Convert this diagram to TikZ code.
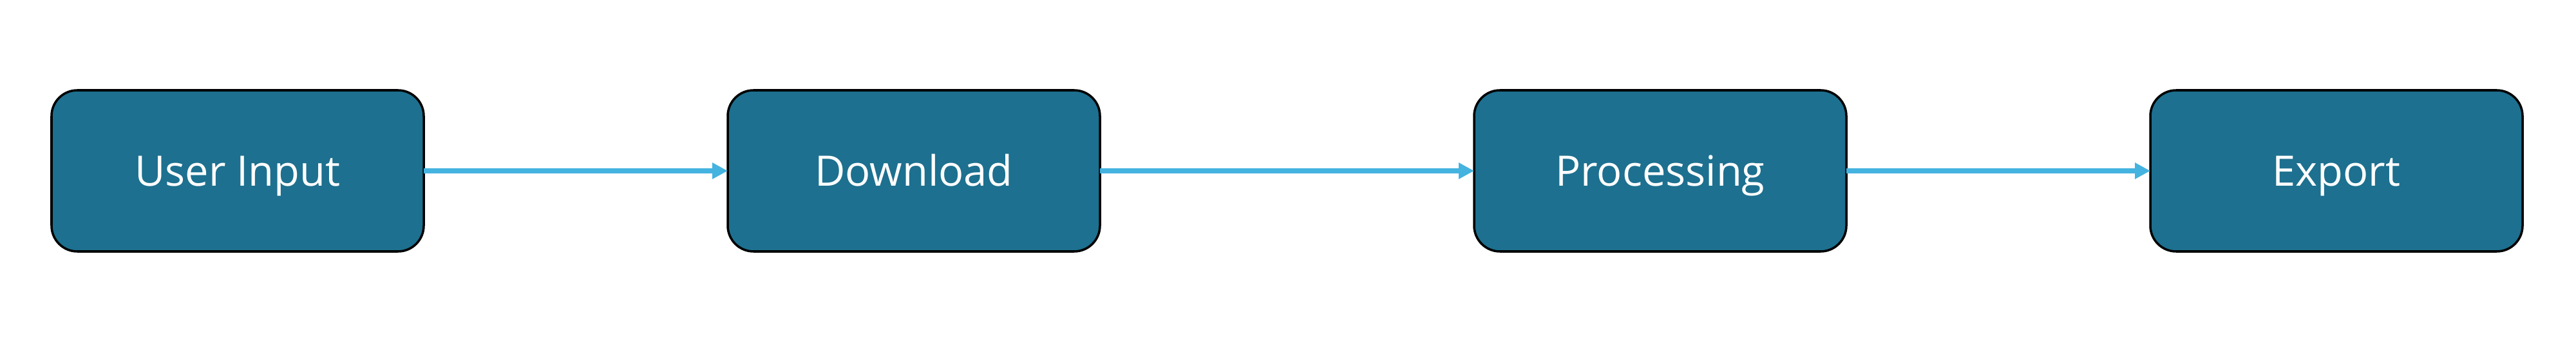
\documentclass[tikz,border=0pt]{standalone}
\usepackage{fontspec}
\setmainfont{Open Sans}
\usepackage{tikz}
\usetikzlibrary{arrows.meta,positioning}
\definecolor{boxblue}{RGB}{29,112,143}
\definecolor{flowblue}{RGB}{69,179,224}

\begin{document}
\begin{tikzpicture}[
 >={Triangle[length=2.4mm,width=2.4mm]}, font=\fontsize{18.5}{22}\selectfont,
 stage/.style={draw=black, line width=1pt, fill=boxblue, text=white, rounded corners=4mm,
  minimum width=5.78cm, minimum height=2.5cm, outer sep=0pt,
  text height=4.7mm, text depth=0mm},
 flow/.style={->, draw=flowblue, line width=2pt}]
\useasboundingbox (0,0) rectangle (40,5.31);
\node[stage] (input) at (3.69,2.66) {User Input};
\node[stage, right=4.72cm of input] (download) {Download};
\node[stage, right=5.81cm of download] (proc) {Processing};
\node[stage, right=4.72cm of proc] (export) {Export};
\draw[flow] (input) -- (download);
\draw[flow] (download) -- (proc);
\draw[flow] (proc) -- (export);
\end{tikzpicture}
\end{document}
